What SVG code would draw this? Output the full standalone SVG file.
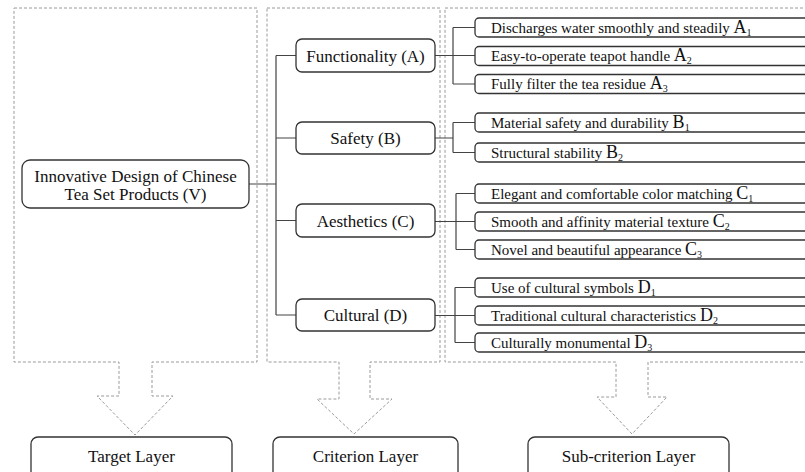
<svg xmlns="http://www.w3.org/2000/svg" width="805" height="472" viewBox="0 0 805 472" font-family="'Liberation Serif', Tinos, 'Times New Roman', Times, 'DejaVu Serif', serif">
<style>
.panel{fill:none;stroke:#9a9a9a;stroke-width:1;stroke-dasharray:3 2}
.box{fill:#fff;stroke:#333;stroke-width:1.3}
.con{fill:none;stroke:#444;stroke-width:1.2}
text{font-family:'Liberation Serif', Tinos, 'Times New Roman', Times, 'DejaVu Serif', serif;fill:#111}
.m{font-size:17px;text-anchor:middle}
.s{font-size:15px}
.L{font-size:18px}
.sub{font-size:10px}
</style>
<rect width="805" height="472" fill="#fff"/>
<g id="panels">
<path class="panel" d="M14,8 H257 V362 H152 V396 H173 L135,435 L97,396 H119 V362 H14 Z"/>
<path class="panel" d="M267,8 H440 V362 H370 V399 H392 L354,434 L317,399 H339 V362 H267 Z"/>
<path class="panel" d="M445,8 H812 V362 H648 V397 H667 L632,434 L597,397 H616 V362 H445 Z"/>
</g>
<g id="connectors">
<path class="con" d="M249,184 H276 M276,55.5 V315 M276,55.5 H296 M276,138 H296 M276,220.5 H296 M276,315 H296"/>
<path class="con" d="M435,55.5 H475 M453,27.5 V84 M453,27.5 H475 M453,84 H475"/>
<path class="con" d="M435,138 H453 M453,122.5 V152.5 M453,122.5 H475 M453,152.5 H475"/>
<path class="con" d="M435,221.5 H475 M456,193.5 V249.5 M456,193.5 H475 M456,249.5 H475"/>
<path class="con" d="M435,315.5 H475 M455,287.5 V342.5 M455,287.5 H475 M455,342.5 H475"/>
</g>
<g id="V">
<rect class="box" x="22" y="160" width="227" height="48" rx="8"/>
<text class="m" x="135.5" y="181.5">Innovative Design of Chinese</text>
<text class="m" x="135.5" y="199.5">Tea Set Products (V)</text>
</g>
<g id="A">
<rect class="box" x="296" y="39" width="139" height="33" rx="6"/>
<text class="m" x="365.5" y="61.5">Functionality (A)</text>
</g>
<g id="B">
<rect class="box" x="296" y="122" width="139" height="32" rx="6"/>
<text class="m" x="365.5" y="144">Safety (B)</text>
</g>
<g id="C">
<rect class="box" x="296" y="204" width="139" height="33" rx="6"/>
<text class="m" x="365.5" y="226.5">Aesthetics (C)</text>
</g>
<g id="D">
<rect class="box" x="296" y="299" width="139" height="32" rx="6"/>
<text class="m" x="365.5" y="321">Cultural (D)</text>
</g>
<g id="A1"><rect class="box" x="475" y="18" width="345" height="19" rx="4"/>
<text class="s" x="491" y="32.5">Discharges water smoothly and steadily <tspan class="L">A</tspan><tspan class="sub" dy="3">1</tspan></text></g>
<g id="A2"><rect class="box" x="475" y="46.5" width="345" height="19" rx="4"/>
<text class="s" x="491" y="61">Easy-to-operate teapot handle <tspan class="L">A</tspan><tspan class="sub" dy="3">2</tspan></text></g>
<g id="A3"><rect class="box" x="475" y="74.5" width="345" height="19" rx="4"/>
<text class="s" x="491" y="89">Fully filter the tea residue <tspan class="L">A</tspan><tspan class="sub" dy="3">3</tspan></text></g>
<g id="B1"><rect class="box" x="475" y="113" width="345" height="19" rx="4"/>
<text class="s" x="491" y="127.5">Material safety and durability <tspan class="L">B</tspan><tspan class="sub" dy="3">1</tspan></text></g>
<g id="B2"><rect class="box" x="475" y="143" width="345" height="19" rx="4"/>
<text class="s" x="491" y="157.5">Structural stability <tspan class="L">B</tspan><tspan class="sub" dy="3">2</tspan></text></g>
<g id="C1"><rect class="box" x="475" y="184" width="345" height="19" rx="4"/>
<text class="s" x="491" y="198.5">Elegant and comfortable color matching <tspan class="L">C</tspan><tspan class="sub" dy="3">1</tspan></text></g>
<g id="C2"><rect class="box" x="475" y="212" width="345" height="19" rx="4"/>
<text class="s" x="491" y="226.5">Smooth and affinity material texture <tspan class="L">C</tspan><tspan class="sub" dy="3">2</tspan></text></g>
<g id="C3"><rect class="box" x="475" y="240" width="345" height="19" rx="4"/>
<text class="s" x="491" y="254.5">Novel and beautiful appearance <tspan class="L">C</tspan><tspan class="sub" dy="3">3</tspan></text></g>
<g id="D1"><rect class="box" x="475" y="278" width="345" height="19" rx="4"/>
<text class="s" x="491" y="292.5">Use of cultural symbols <tspan class="L">D</tspan><tspan class="sub" dy="3">1</tspan></text></g>
<g id="D2"><rect class="box" x="475" y="306" width="345" height="19" rx="4"/>
<text class="s" x="491" y="320.5">Traditional cultural characteristics <tspan class="L">D</tspan><tspan class="sub" dy="3">2</tspan></text></g>
<g id="D3"><rect class="box" x="475" y="333" width="345" height="19" rx="4"/>
<text class="s" x="491" y="347.5">Culturally monumental <tspan class="L">D</tspan><tspan class="sub" dy="3">3</tspan></text></g>
<g id="target-layer"><rect class="box" x="31" y="437" width="201" height="50" rx="7"/>
<text class="m" x="131.5" y="462">Target Layer</text></g>
<g id="criterion-layer"><rect class="box" x="273" y="437" width="185" height="50" rx="7"/>
<text class="m" x="365.5" y="462">Criterion Layer</text></g>
<g id="subcriterion-layer"><rect class="box" x="528" y="437" width="201" height="50" rx="7"/>
<text class="m" x="628.5" y="462">Sub-criterion Layer</text></g>
</svg>
